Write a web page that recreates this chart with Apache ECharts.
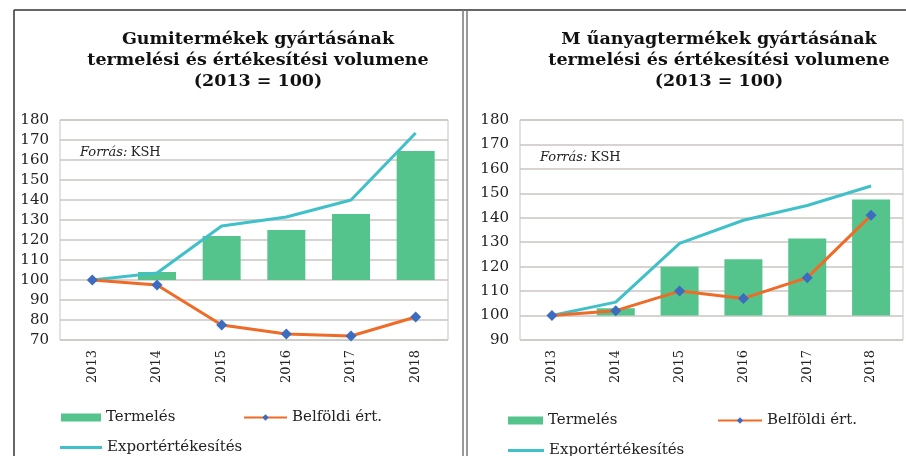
<!DOCTYPE html>
<html>
<head>
<meta charset="utf-8">
<script src="https://cdn.jsdelivr.net/npm/echarts@6/dist/echarts.min.js"></script>
<style>
  html, body { margin: 0; padding: 0; background: #fff; }
  #chart { width: 906px; height: 456px; }
</style>
</head>
<body>
<div id="chart"></div>
<script>
var years = ["2013", "2014", "2015", "2016", "2017", "2018"];

// Gumitermékek (bal)
var gumiTermeles = [100, 104, 122, 125, 133, 164.5];
var gumiBelfoldi = [100, 97.5, 77.5, 73, 72, 81.5];
var gumiExport = [100, 103.5, 127, 131.5, 140, 173.5];

// Műanyagtermékek (jobb)
var muTermeles = [100, 103, 120, 123, 131.5, 147.5];
var muBelfoldi = [100, 102, 110, 107, 115.5, 141];
var muExport = [100, 105.5, 129.5, 139, 145, 153];

var serif = "DejaVu Serif";
var green = "#55c48c", orange = "#ee6b28", teal = "#40c0c8", blue = "#3b6cc0";

var myChart = echarts.init(document.getElementById("chart"));

function minus100(arr) {
  return arr.map(function (v) { return v - 100; });
}

function panelSeries(idx, termeles, belfoldi, exportArr) {
  return [
    {
      name: "base" + idx, type: "bar", xAxisIndex: idx, yAxisIndex: idx,
      stack: "s" + idx, silent: true, barWidth: 38,
      itemStyle: { color: "transparent" },
      data: termeles.map(function () { return 100; })
    },
    {
      name: "Termelés", type: "bar", xAxisIndex: idx, yAxisIndex: idx,
      stack: "s" + idx, barWidth: 38,
      itemStyle: { color: green },
      data: minus100(termeles)
    },
    {
      name: "Exportértékesítés", type: "line", xAxisIndex: idx, yAxisIndex: idx,
      symbol: "none", z: 3,
      lineStyle: { color: teal, width: 3 },
      itemStyle: { color: teal },
      data: exportArr
    },
    {
      name: "Belföldi ért.", type: "line", xAxisIndex: idx, yAxisIndex: idx,
      symbol: "diamond", symbolSize: 11, z: 4,
      lineStyle: { color: orange, width: 3 },
      itemStyle: { color: blue },
      data: belfoldi
    }
  ];
}

function legendAt(name, left, top, icon, w, h) {
  return {
    data: [{ name: name, icon: icon }],
    left: left, top: top, itemWidth: w, itemHeight: h, itemGap: 4,
    padding: 0, selectedMode: false,
    textStyle: { fontFamily: serif, fontSize: 15, color: "#222" }
  };
}

var titleStyle = { fontFamily: serif, fontWeight: "bold", fontSize: 17.5, color: "#111", lineHeight: 21 };

function forras(x, y) {
  return {
    type: "text", left: x, top: y,
    style: {
      text: "{i|Forrás:} {n|KSH}",
      rich: {
        i: { fontFamily: serif, fontStyle: "italic", fontSize: 13, fill: "#222" },
        n: { fontFamily: serif, fontSize: 13, fill: "#222" }
      }
    }
  };
}

var option = {
  animation: false,
  backgroundColor: "#fff",
  title: [
    {
      text: "Gumitermékek gyártásának\ntermelési és értékesítési volumene\n(2013 = 100)",
      left: 253, top: 24, textAlign: "center", textStyle: titleStyle
    },
    {
      text: "M űanyagtermékek gyártásának\ntermelési és értékesítési volumene\n(2013 = 100)",
      left: 714, top: 24, textAlign: "center", textStyle: titleStyle
    }
  ],
  grid: [
    { left: 60, top: 120, width: 388, height: 220, show: true, borderColor: "#c9c4c0", borderWidth: 1 },
    { left: 520, top: 120, width: 383, height: 220, show: true, borderColor: "#c9c4c0", borderWidth: 1 }
  ],
  xAxis: [0, 1].map(function (i) {
    return {
      type: "category", gridIndex: i, data: years,
      axisLine: { show: false }, axisTick: { show: false },
      axisLabel: { rotate: 90, margin: 10, fontFamily: serif, fontSize: 13, color: "#222" }
    };
  }),
  yAxis: [
    { min: 70, max: 180, interval: 10 },
    { min: 90, max: 180, interval: 10 }
  ].map(function (a, i) {
    return {
      type: "value", gridIndex: i, min: a.min, max: a.max, interval: a.interval,
      axisLine: { show: false }, axisTick: { show: false },
      axisLabel: { margin: 11, fontFamily: serif, fontSize: 15, color: "#222" },
      splitLine: { lineStyle: { color: "#c9c4c0", width: 1.5 } }
    };
  }),
  legend: [
    legendAt("Termelés", 61, 410, "rect", 40, 8),
    legendAt("Belföldi ért.", 243, 410, null, 43, 8),
    legendAt("Exportértékesítés", 60, 440, "rect", 42, 3),
    legendAt("Termelés", 508, 413, "rect", 35, 8),
    legendAt("Belföldi ért.", 717, 413, null, 44, 8),
    legendAt("Exportértékesítés", 508, 443, "rect", 36, 3)
  ],
  graphic: [
    { type: "line", shape: { x1: 14, y1: 10, x2: 906, y2: 10 }, style: { stroke: "#333", lineWidth: 1.5 } },
    { type: "line", shape: { x1: 14, y1: 10, x2: 14, y2: 456 }, style: { stroke: "#333", lineWidth: 1.5 } },
    { type: "line", shape: { x1: 463, y1: 10, x2: 463, y2: 456 }, style: { stroke: "#777", lineWidth: 1.5 } },
    { type: "line", shape: { x1: 467, y1: 10, x2: 467, y2: 456 }, style: { stroke: "#777", lineWidth: 1.5 } },
    forras(80, 146),
    forras(540, 151)
  ],
  series: panelSeries(0, gumiTermeles, gumiBelfoldi, gumiExport)
    .concat(panelSeries(1, muTermeles, muBelfoldi, muExport))
};

myChart.setOption(option);
</script>
</body>
</html>
